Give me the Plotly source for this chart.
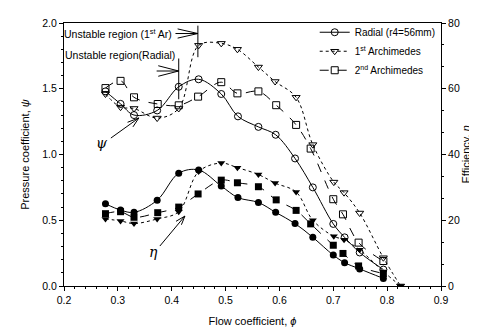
import plotly.graph_objects as go

# ---- data ----
phi_radial = [0.277, 0.305, 0.330, 0.373, 0.413, 0.450, 0.492, 0.523, 0.561, 0.593, 0.629, 0.662, 0.700, 0.721, 0.749, 0.793]
psi_radial = [1.48, 1.385, 1.30, 1.335, 1.515, 1.572, 1.46, 1.29, 1.21, 1.15, 0.97, 0.75, 0.472, 0.37, 0.255, 0.125]
eta_radial = [25.0, 23.1, 22.4, 26.1, 34.3, 35.3, 30.4, 26.9, 25.4, 22.4, 19.0, 14.8, 9.4, 7.1, 5.2, 2.3]

phi_arch1 = [0.277, 0.305, 0.330, 0.373, 0.413, 0.450, 0.492, 0.522, 0.561, 0.592, 0.631, 0.662, 0.701, 0.720, 0.749, 0.793, 0.825]
psi_arch1 = [1.46, 1.36, 1.35, 1.277, 1.35, 1.83, 1.845, 1.80, 1.665, 1.555, 1.435, 1.075, 0.79, 0.71, 0.555, 0.215, 0.0]
eta_arch1 = [20.4, 19.8, 19.0, 20.4, 22.6, 34.8, 37.4, 36.0, 33.9, 31.3, 28.6, 20.0, 15.1, 14.1, 11.0, 4.4, 0.0]

phi_arch2 = [0.277, 0.305, 0.330, 0.374, 0.413, 0.449, 0.492, 0.522, 0.561, 0.594, 0.631, 0.658, 0.700, 0.718, 0.747, 0.793]
psi_arch2 = [1.505, 1.56, 1.435, 1.384, 1.374, 1.44, 1.55, 1.465, 1.48, 1.375, 1.225, 1.045, 0.66, 0.545, 0.33, 0.19]
eta_arch2 = [22.0, 22.6, 20.9, 22.3, 24.0, 28.0, 32.2, 31.4, 30.2, 26.2, 23.0, 18.9, 12.4, 9.9, 6.1, 3.8]

names = ["Radial (r4=56mm)", "1<sup>st</sup> Archimedes", "2<sup>nd</sup> Archimedes"]
x_ticks = [0.2, 0.3, 0.4, 0.5, 0.6, 0.7, 0.8, 0.9]
psi_ticks = [0.0, 0.5, 1.0, 1.5, 2.0]
eta_ticks = [0, 20, 40, 60, 80]

FONT = "Liberation Sans, Arial, sans-serif"
fig = go.Figure()

series = [
    (phi_radial, psi_radial, eta_radial, "solid", "circle"),
    (phi_arch1, psi_arch1, eta_arch1, "dot", "triangle-down"),
    (phi_arch2, psi_arch2, eta_arch2, "dash", "square"),
]

for (ph, ps, et, dash, sym), nm in zip(series, names):
    fig.add_trace(go.Scatter(
        x=ph, y=ps, name=nm, mode="lines+markers",
        line=dict(color="black", width=1, dash=dash, shape="spline", smoothing=1.0),
        marker=dict(symbol=sym + "-open", size=7, color="black", line=dict(width=1, color="black")),
        showlegend=True, yaxis="y"))

for (ph, ps, et, dash, sym), nm in zip(series, names):
    fig.add_trace(go.Scatter(
        x=ph, y=et, name=nm, mode="lines+markers",
        line=dict(color="black", width=1, dash=dash, shape="spline", smoothing=1.0),
        marker=dict(symbol=sym, size=7, color="black"),
        showlegend=False, yaxis="y2"))

def seg(x0, y0, x1, y1):
    fig.add_shape(type="line", xref="x", yref="y", x0=x0, y0=y0, x1=x1, y1=y1,
                  line=dict(color="black", width=1))

# Unstable region (1st Ar)
seg(0.4486, 1.98, 0.4486, 1.74)
seg(0.407, 1.92, 0.4486, 1.92)
seg(0.411, 1.955, 0.4486, 1.92)
seg(0.411, 1.885, 0.4486, 1.92)
# Unstable region (Radial)
seg(0.413, 1.73, 0.413, 1.42)
seg(0.372, 1.635, 0.413, 1.635)
seg(0.375, 1.675, 0.413, 1.635)
seg(0.375, 1.595, 0.413, 1.635)
# psi arrow
seg(0.287, 1.125, 0.339, 1.278)
seg(0.318, 1.245, 0.339, 1.278)
seg(0.328, 1.21, 0.339, 1.278)
# eta arrow
seg(0.378, 0.304, 0.4245, 0.532)
seg(0.408, 0.492, 0.4245, 0.532)
seg(0.418, 0.466, 0.4245, 0.532)

fig.add_annotation(x=0.405, y=1.92, xref="x", yref="y", xanchor="right", yanchor="middle",
                   text="Unstable region (1<sup>st</sup> Ar)", showarrow=False,
                   font=dict(family=FONT, size=10.5, color="black"))
fig.add_annotation(x=0.410, y=1.755, xref="x", yref="y", xanchor="right", yanchor="middle",
                   text="Unstable region(Radial)", showarrow=False,
                   font=dict(family=FONT, size=10.5, color="black"))
fig.add_annotation(x=0.270, y=1.09, xref="x", yref="y", text="<i>ψ</i>", showarrow=False,
                   font=dict(family="DejaVu Serif, serif", size=14, color="black"))
fig.add_annotation(x=0.367, y=0.26, xref="x", yref="y", text="<i>η</i>", showarrow=False,
                   font=dict(family="DejaVu Serif, serif", size=14, color="black"))
fig.add_annotation(x=1.085, y=0.5, xref="paper", yref="paper", textangle=-90,
                   text="Efficiency, <i>η</i>", showarrow=False,
                   font=dict(family=FONT, size=11, color="black"))

axis_common = dict(showline=True, linecolor="black", linewidth=1, ticks="outside",
                   ticklen=4, tickcolor="black", showgrid=False, zeroline=False,
                   tickfont=dict(family=FONT, size=10.5, color="black"))

fig.update_layout(
    width=477, height=330,
    margin=dict(l=56, r=44, t=15, b=52, autoexpand=False),
    paper_bgcolor="white", plot_bgcolor="white",
    font=dict(family=FONT, size=10, color="black"),
    xaxis=dict(range=[0.2, 0.9], tickvals=x_ticks, ticktext=[f"{v:.1f}" for v in x_ticks],
               mirror=True, automargin=False,
               minor=dict(dtick=0.02, tick0=0.2, ticks="outside", ticklen=2, tickcolor="black"),
               title=dict(text="Flow coefficient, <i>ϕ</i>", font=dict(family=FONT, size=11), standoff=12),
               **axis_common),
    yaxis=dict(range=[0, 2.0], tickvals=psi_ticks, ticktext=[f"{v:.1f}" for v in psi_ticks],
               automargin=False,
               minor=dict(dtick=0.1, tick0=0, ticks="outside", ticklen=2, tickcolor="black"),
               title=dict(text="Pressure coefficient, <i>ψ</i>", font=dict(family=FONT, size=11), standoff=10),
               **axis_common),
    yaxis2=dict(range=[0, 80], tickvals=eta_ticks, ticktext=[str(v) for v in eta_ticks],
                overlaying="y", side="right", automargin=False,
                minor=dict(dtick=20/3, tick0=0, ticks="outside", ticklen=2, tickcolor="black"),
                **axis_common),
    legend=dict(x=0.665, y=1.02, xanchor="left", yanchor="top", bgcolor="rgba(0,0,0,0)",
                font=dict(family=FONT, size=10), tracegroupgap=0, itemwidth=30),
)

fig.write_html("out.html")
